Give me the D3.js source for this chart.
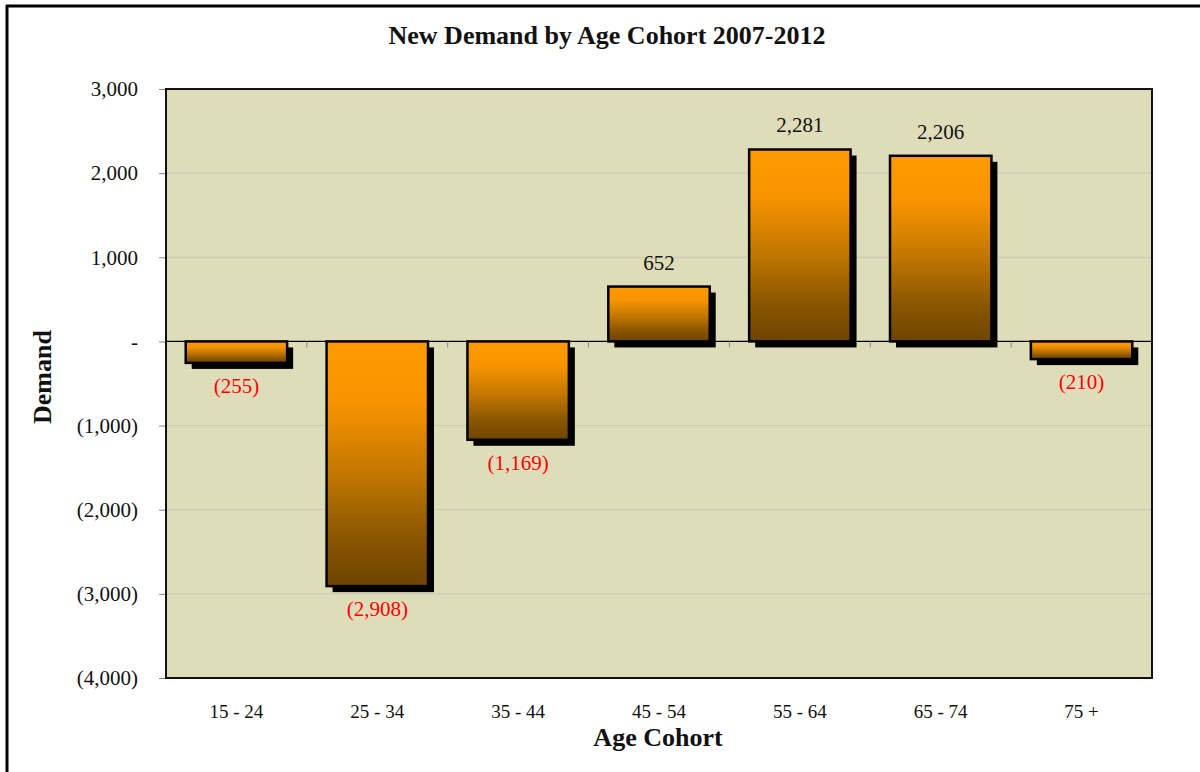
<!DOCTYPE html>
<html>
<head>
<meta charset="utf-8">
<script src="https://cdn.jsdelivr.net/npm/d3@7"></script>
<style>
  html, body { margin: 0; padding: 0; background: #ffffff; }
  svg { display: block; }
  text { font-family: "Liberation Serif", "DejaVu Serif", serif; }
</style>
</head>
<body>
<svg id="chart" width="1200" height="772"></svg>
<script>
// Age cohorts and the change in demand for each, 2007-2012
const cohorts = ["15 - 24", "25 - 34", "35 - 44", "45 - 54", "55 - 64", "65 - 74", "75 +"];
const demand = [-255, -2908, -1169, 652, 2281, 2206, -210];
const yTicks = [3000, 2000, 1000, 0, -1000, -2000, -3000, -4000];

const chartTitle = "New Demand by Age Cohort 2007-2012";
const xTitle = "Age Cohort";
const yTitle = "Demand";

const svg = d3.select("#chart");
const plot = { left: 166, top: 89, right: 1152, bottom: 678 };

// Numbers in accounting style: negatives in parentheses, zero as a dash
const fmtNum = d3.format(",");
const acct = v => v === 0 ? "-" : (v < 0 ? "(" + fmtNum(-v) + ")" : fmtNum(v));

const x = d3.scaleBand().domain(cohorts).range([plot.left, plot.right]).paddingInner(0.28).paddingOuter(0.14);
const xOuter = d3.scaleBand().domain(cohorts).range([plot.left, plot.right]);
const y = d3.scaleLinear().domain([-4000, 3000]).range([plot.bottom, plot.top]);

// Outer frame lines
svg.append("line").attr("x1", 7).attr("x2", 7).attr("y1", 5).attr("y2", 772)
  .attr("stroke", "#000").attr("stroke-width", 3);
svg.append("line").attr("x1", 6).attr("x2", 1200).attr("y1", 6).attr("y2", 6)
  .attr("stroke", "#000").attr("stroke-width", 3);

// Bar fill gradient
const defs = svg.append("defs");
const grad = defs.append("linearGradient").attr("id", "barFill")
  .attr("x1", 0).attr("y1", 0).attr("x2", 0).attr("y2", 1);
[[0, "#ff9a00"], [0.25, "#f79400"], [0.55, "#c07600"], [0.8, "#8a5600"], [1, "#6e4400"]]
  .forEach(([o, c]) => grad.append("stop").attr("offset", o).attr("stop-color", c));

// Plot background
svg.append("rect")
  .attr("x", plot.left).attr("y", plot.top)
  .attr("width", plot.right - plot.left).attr("height", plot.bottom - plot.top)
  .attr("fill", "#dfdcb9");

// Horizontal gridlines
svg.append("g").selectAll("line").data(yTicks.filter(t => t !== 0 && t !== 3000 && t !== -4000)).join("line")
  .attr("x1", plot.left).attr("x2", plot.right)
  .attr("y1", d => y(d)).attr("y2", d => y(d))
  .attr("stroke", "#c9c8b4").attr("stroke-width", 1);

// Y axis
const yAxis = d3.axisLeft(y).tickValues(yTicks).tickFormat(acct).tickSize(7).tickPadding(21);
const gy = svg.append("g").attr("transform", `translate(${plot.left},0)`).call(yAxis);
gy.select(".domain").remove();
gy.selectAll(".tick line").attr("stroke", "#888").attr("stroke-width", 1);
gy.selectAll(".tick text").attr("font-size", 21).attr("fill", "#111")
  .attr("font-family", "Liberation Serif, serif").attr("dy", "0.32em");

// Bars: shadow first, then the bar itself
const bars = svg.append("g");
const data = cohorts.map((c, i) => ({ c, v: demand[i] }));
bars.selectAll("rect.shadow").data(data).join("rect").attr("class", "shadow")
  .attr("x", d => x(d.c) + 6)
  .attr("y", d => Math.min(y(d.v), y(0)) + 6)
  .attr("width", x.bandwidth())
  .attr("height", d => Math.abs(y(d.v) - y(0)))
  .attr("fill", "#000");
bars.selectAll("rect.bar").data(data).join("rect").attr("class", "bar")
  .attr("x", d => x(d.c))
  .attr("y", d => Math.min(y(d.v), y(0)))
  .attr("width", x.bandwidth())
  .attr("height", d => Math.abs(y(d.v) - y(0)))
  .attr("fill", "url(#barFill)")
  .attr("stroke", "#000").attr("stroke-width", 2.5);

// Zero line and category separator ticks on it
svg.append("line").attr("x1", plot.left).attr("x2", plot.right)
  .attr("y1", y(0)).attr("y2", y(0)).attr("stroke", "#000").attr("stroke-width", 1.2);
svg.append("g").selectAll("line").data(cohorts.slice(1)).join("line")
  .attr("x1", d => xOuter(d)).attr("x2", d => xOuter(d))
  .attr("y1", y(0)).attr("y2", y(0) + 6)
  .attr("stroke", "#888").attr("stroke-width", 1);

// Plot border
svg.append("rect")
  .attr("x", plot.left).attr("y", plot.top)
  .attr("width", plot.right - plot.left).attr("height", plot.bottom - plot.top)
  .attr("fill", "none").attr("stroke", "#111").attr("stroke-width", 2);

// Value labels
svg.append("g").selectAll("text").data(data).join("text")
  .attr("x", d => x(d.c) + x.bandwidth() / 2)
  .attr("y", d => d.v >= 0 ? y(d.v) - 17 : y(d.v) + 30)
  .attr("text-anchor", "middle")
  .attr("font-size", 21)
  .attr("fill", d => d.v >= 0 ? "#111" : "#ff0000")
  .text(d => acct(d.v));

// Category labels
svg.append("g").selectAll("text").data(cohorts).join("text")
  .attr("x", d => xOuter(d) + xOuter.bandwidth() / 2)
  .attr("y", 718)
  .attr("text-anchor", "middle")
  .attr("font-size", 19)
  .attr("fill", "#111")
  .text(d => d);

// Titles
svg.append("text").attr("x", 607).attr("y", 44).attr("text-anchor", "middle")
  .attr("font-size", 26).attr("font-weight", "bold").attr("fill", "#111").text(chartTitle);
svg.append("text").attr("x", 658).attr("y", 746).attr("text-anchor", "middle")
  .attr("font-size", 26).attr("font-weight", "bold").attr("fill", "#111").text(xTitle);
svg.append("text").attr("transform", "translate(51,377) rotate(-90)").attr("text-anchor", "middle")
  .attr("font-size", 26).attr("font-weight", "bold").attr("fill", "#111").text(yTitle);
</script>
</body>
</html>
